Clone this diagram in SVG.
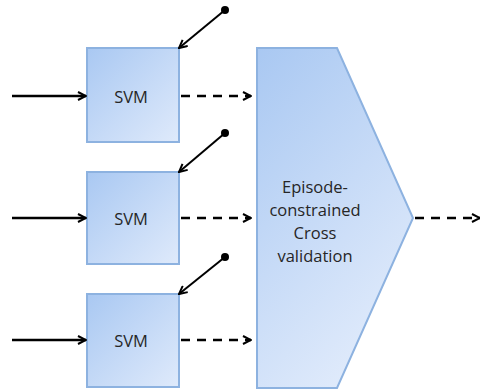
<svg xmlns="http://www.w3.org/2000/svg" width="480" height="389" viewBox="0 0 480 389">
<defs>
<linearGradient id="g" x1="0" y1="0" x2="1" y2="1">
<stop offset="0" stop-color="#a9c8f2"/>
<stop offset="1" stop-color="#dfeafb"/>
</linearGradient>
<linearGradient id="gb" x1="0" y1="0" x2="0.5" y2="1">
<stop offset="0" stop-color="#a9c8f2"/>
<stop offset="1" stop-color="#dfeafb"/>
</linearGradient>
<marker id="ah" viewBox="0 0 10 10" refX="9" refY="5" markerWidth="10" markerHeight="10" markerUnits="userSpaceOnUse" orient="auto">
<path d="M1,1 L9,5 L1,9" fill="none" stroke="#000" stroke-width="2"/>
</marker>
<marker id="dot" viewBox="0 0 10 10" refX="5" refY="5" markerWidth="8" markerHeight="8" markerUnits="userSpaceOnUse">
<circle cx="5" cy="5" r="5" fill="#000"/>
</marker>
</defs>
<style>
.box{fill:url(#g);stroke:#8db2e0;stroke-width:2}
.big{fill:url(#gb);stroke:#8db2e0;stroke-width:2}
.t{font-family:"Open Sans","Liberation Sans",sans-serif;font-size:16.5px;fill:#262626;text-anchor:middle;dominant-baseline:central}
.solid{stroke:#000;stroke-width:2.5;fill:none}
.dash{stroke:#000;stroke-width:2.5;fill:none;stroke-dasharray:9 7}
.diag{stroke:#000;stroke-width:2;fill:none}
</style>
<g id="svm1"><rect class="box" x="87" y="48" width="92" height="94"/><text class="t" x="131" y="96">SVM</text></g>
<g id="svm2"><rect class="box" x="87" y="172" width="92" height="92"/><text class="t" x="131" y="218">SVM</text></g>
<g id="svm3"><rect class="box" x="87" y="294" width="92" height="93"/><text class="t" x="131" y="340">SVM</text></g>
<g id="cv"><path class="big" d="M257,48 L337,48 L413,218 L337,388 L257,388 Z"/>
<text class="t" x="315" y="186">Episode-</text>
<text class="t" x="315" y="209">constrained</text>
<text class="t" x="315" y="232">Cross</text>
<text class="t" x="315" y="255">validation</text></g>
<g id="connectors">
<line class="solid" x1="12" y1="96" x2="86" y2="96" marker-end="url(#ah)"/>
<line class="solid" x1="12" y1="218" x2="86" y2="218" marker-end="url(#ah)"/>
<line class="solid" x1="12" y1="340" x2="86" y2="340" marker-end="url(#ah)"/>
<line class="dash" x1="181" y1="96" x2="251" y2="96" marker-end="url(#ah)"/>
<line class="dash" x1="181" y1="218" x2="251" y2="218" marker-end="url(#ah)"/>
<line class="dash" x1="181" y1="340" x2="251" y2="340" marker-end="url(#ah)"/>
<line class="dash" x1="415" y1="218" x2="480" y2="218" marker-end="url(#ah)"/>
<line class="diag" x1="225" y1="10" x2="179" y2="48" marker-start="url(#dot)" marker-end="url(#ah)"/>
<line class="diag" x1="225" y1="133" x2="179" y2="172" marker-start="url(#dot)" marker-end="url(#ah)"/>
<line class="diag" x1="225" y1="257" x2="179" y2="294" marker-start="url(#dot)" marker-end="url(#ah)"/>
</g>
</svg>
